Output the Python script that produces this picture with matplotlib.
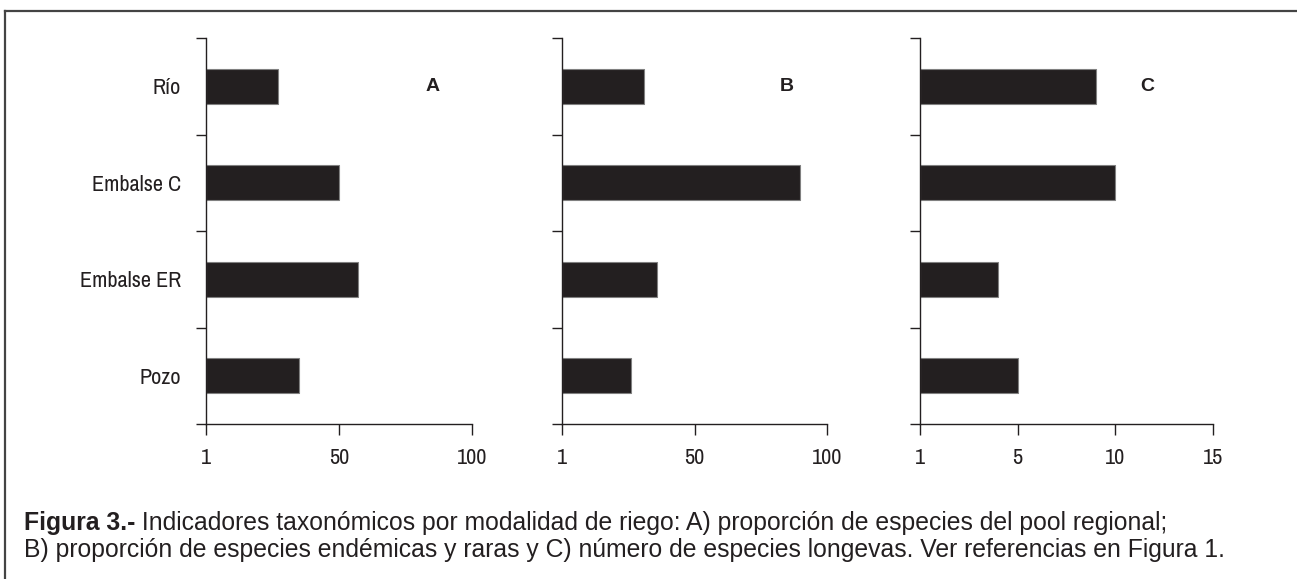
import matplotlib
matplotlib.use("Agg")
import matplotlib.pyplot as plt
import matplotlib.transforms as mtransforms
from matplotlib.lines import Line2D

# ---- data ----
categories = ["Río", "Embalse C", "Embalse ER", "Pozo"]
values_A = [27, 50, 57, 35]
values_B = [31, 90, 36, 26]
values_C = [9, 10, 4, 5]
panel_letters = ["A", "B", "C"]
xticks_AB = [0, 50, 100]
xticklabels_AB = ["1", "50", "100"]
xticks_C = [0, 5, 10, 15]
xticklabels_C = ["1", "5", "10", "15"]
caption_bold = "Figura 3.-"
caption_line1 = " Indicadores taxonómicos por modalidad de riego: A) proporción de especies del pool regional;"
caption_line2 = "B) proporción de especies endémicas y raras y C) número de especies longevas. Ver referencias en Figura 1."

W, H = 1297, 579
fig = plt.figure(figsize=(W / 100, H / 100), dpi=100)
fig.patch.set_facecolor("white")

tick_font = ["Archivo Narrow", "Roboto Condensed", "Liberation Sans", "DejaVu Sans"]
text_font = ["Liberation Sans", "DejaVu Sans"]
dark = "#231f20"

panels = [
    (values_A, xticks_AB, xticklabels_AB, 206, 472, 0.85),
    (values_B, xticks_AB, xticklabels_AB, 562, 827, 0.85),
    (values_C, xticks_C, xticklabels_C, 920, 1213, 0.775),
]
top_px, bot_px = 38, 424

n = len(categories)
for i, (vals, xt, xtl, x0, x1, lx) in enumerate(panels):
    ax = fig.add_axes([x0 / W, 1 - bot_px / H, (x1 - x0) / W, (bot_px - top_px) / H])
    ypos = list(range(n))
    ax.barh(ypos, vals, height=0.36, color=dark, edgecolor="#808080", linewidth=0.8)
    ax.set_ylim(n - 0.5, -0.5)
    ax.set_xlim(xt[0], xt[-1])
    for s in ["top", "right"]:
        ax.spines[s].set_visible(False)
    for s in ["left", "bottom"]:
        ax.spines[s].set_color(dark)
        ax.spines[s].set_linewidth(1.0)
    ax.set_yticks([k - 0.5 for k in range(n + 1)])
    ax.set_yticklabels([])
    ax.set_yticks(ypos, minor=True)
    if i == 0:
        ax.set_yticklabels(categories, minor=True, fontsize=16, family=tick_font, color=dark)
    else:
        ax.set_yticklabels([], minor=True)
    ax.tick_params(axis="y", which="major", length=7, width=1, direction="out", color=dark)
    ax.tick_params(axis="y", which="minor", length=0, pad=18)
    ax.set_xticks(xt)
    ax.set_xticklabels(xtl, fontsize=16, family=tick_font, color=dark)
    ax.tick_params(axis="x", which="major", length=8, width=1, direction="out", color=dark, pad=9)
    trans = mtransforms.blended_transform_factory(ax.transAxes, ax.transData)
    ax.text(lx, 0, panel_letters[i], transform=trans,
            fontsize=14, fontweight="bold", family=text_font, color=dark, ha="center", va="center")

# frame lines (left and top)
fig.add_artist(Line2D([5 / W, 5 / W], [0, 1 - 11 / H], transform=fig.transFigure, color="#444444", lw=1.6))
fig.add_artist(Line2D([5 / W, 1], [1 - 11 / H, 1 - 11 / H], transform=fig.transFigure, color="#444444", lw=1.6))

# caption
cap_fs = 17.8
t1 = fig.text(24 / W, 1 - 523 / H, caption_bold, fontsize=cap_fs, fontweight="bold",
              family=text_font, color=dark, va="center", ha="left")
fig.canvas.draw()
bb = t1.get_window_extent(fig.canvas.get_renderer())
fig.text(bb.x1 / W, 1 - 523 / H, caption_line1, fontsize=cap_fs, family=text_font,
         color=dark, va="center", ha="left")
fig.text(24 / W, 1 - 550 / H, caption_line2, fontsize=cap_fs, family=text_font,
         color=dark, va="center", ha="left")

fig.savefig("out.png", dpi=100, facecolor="white")
